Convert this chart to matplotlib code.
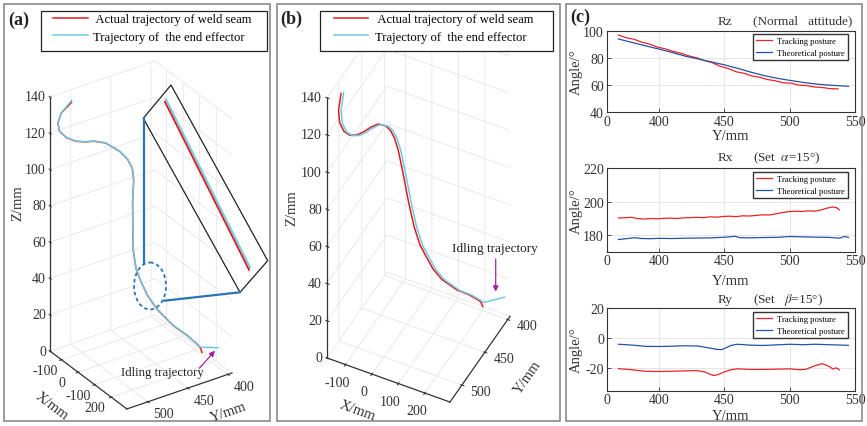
import numpy as np
import matplotlib
matplotlib.use("Agg")
import matplotlib.pyplot as plt
from matplotlib.legend import Legend
from matplotlib.patches import Ellipse, Polygon, Rectangle

plt.rcParams['font.family'] = ['Liberation Serif', 'DejaVu Serif']
plt.rcParams['mathtext.fontset'] = 'stix'
plt.rcParams['axes.unicode_minus'] = False
plt.rcParams['grid.color'] = '#e6e6e6'
plt.rcParams['grid.linewidth'] = 0.6

W, H = 867, 427

# measured weld seam (mm)
seam_x = [-160, -140, -122, -102, -90, -82, -72, -62, -56, -58, -58, -50, -32,
          0, 30, 62, 88, 108, 125, 145, 180, 205, 222, 230, 235]
seam_y = [501, 518, 526, 528, 522, 512, 503, 493, 480, 462, 452, 448, 450,
          458, 464, 470, 472, 470, 465, 457, 445, 432, 424, 421, 420]
seam_z = [134, 132, 129, 126, 122.5, 119.5, 118.5, 118, 115.5, 108, 102, 97, 92,
          84, 73, 63, 55, 49, 41.5, 34, 26, 20, 15.5, 13.5, 11]

# end effector path (mm), last point is the end of the idle move
tool_x = [-145, -125, -107, -87, -75, -67, -57, -47, -41, -43, -43, -35, -17,
          15, 45, 77, 103, 123, 140, 160, 195, 220, 237, 245, 308]
tool_y = [504, 521, 529, 531, 525, 515, 506, 496, 483, 465, 455, 451, 453,
          461, 467, 473, 475, 473, 468, 460, 448, 435, 427, 424, 414.5]
tool_z = [136.5, 133.6, 130.6, 127.6, 124.1, 121.1, 120.1, 119.6, 117.1, 109.6, 103.6, 98.6, 93.6,
          85.6, 74.6, 64.6, 56.6, 50.6, 43.1, 35.6, 27.6, 21.6, 17.1, 15.1, 17.8]

# posture angles along Y (deg)
rz_track_y = [369, 375, 381, 387, 393, 399, 405, 411, 417, 423, 429, 435, 441, 447, 453,
              459, 465, 471, 477, 483, 489, 495, 501, 507, 513, 519, 525, 531, 537]
rz_track = [96.8, 94.8, 93.7, 91.5, 90.1, 87.9, 86.6, 84.7, 83.4, 81.4, 80.1, 77.9, 76.4, 73.8, 72.2,
            69.8, 68.7, 66.7, 65.8, 64.1, 63.2, 61.7, 61.4, 60.0, 59.7, 58.6, 58.2, 57.4, 57.2]
rz_theo_y = [369, 380, 390, 400, 410, 420, 430, 440, 450, 460, 470, 480, 490, 500, 510, 520, 530, 545]
rz_theo = [93.9, 91.2, 88.8, 86.5, 84.0, 81.3, 79.2, 77.1, 74.9, 72.4, 69.6, 67.1, 65.1, 63.5, 62.0,
           60.8, 60.0, 59.1]

rx_track_y = [369, 374, 379, 384, 389, 394, 399, 404, 409, 414, 419, 424, 429, 434, 439, 444, 449, 454,
              459, 464, 469, 474, 479, 484, 489, 494, 499, 504, 509, 514, 519, 524, 529, 533, 536, 538]
rx_track = [190.2, 190.4, 190.6, 189.8, 189.6, 189.9, 189.7, 190.0, 190.1, 189.9, 190.3, 190.4, 190.6,
            190.4, 190.9, 190.7, 191.1, 191.3, 191.0, 191.5, 191.4, 191.7, 192.1, 192.0, 192.6, 193.4,
            194.0, 194.3, 194.1, 194.5, 194.3, 195.0, 196.2, 196.8, 196.4, 195.1]
rx_theo_y = [369, 375, 381, 387, 393, 400, 410, 420, 430, 440, 448, 454, 458, 462, 470, 480, 490, 500,
             510, 520, 530, 538, 542, 545]
rx_theo = [177.3, 177.8, 178.4, 177.9, 177.8, 178.0, 177.9, 178.1, 178.2, 178.3, 178.6, 178.9, 179.3,
           178.4, 178.3, 178.5, 178.6, 179.1, 178.9, 178.7, 178.6, 178.1, 179.1, 178.6]

ry_track_y = [369, 379, 389, 399, 409, 419, 429, 435, 439, 442, 445, 450, 455, 460, 470, 480, 490, 500,
              507, 512, 518, 522, 525, 528, 531, 533, 535, 537, 538]
ry_track = [-20.3, -21.0, -22.0, -22.2, -22.0, -21.8, -21.6, -22.5, -24.0, -24.9, -24.3, -22.5, -21.0,
            -20.4, -20.8, -20.8, -20.6, -20.4, -21.0, -20.8, -18.8, -17.6, -17.0, -18.0, -19.2, -20.6,
            -19.8, -20.2, -21.2]
ry_theo_y = [369, 380, 390, 400, 410, 420, 430, 438, 444, 448, 451, 455, 460, 470, 480, 490, 500, 510,
             520, 530, 545]
ry_theo = [-4.0, -4.6, -5.4, -5.5, -5.3, -5.0, -5.2, -6.4, -7.4, -7.6, -6.5, -4.8, -4.0, -4.6, -4.8,
           -4.4, -4.0, -4.3, -4.0, -4.3, -4.7]

x_ticks = [-100, 0, 100, 200]
y_ticks = [400, 450, 500]
z_ticks = [0, 20, 40, 60, 80, 100, 120, 140]

RED = '#e8171f'
CYAN = '#6ccbdd'
DARK = '#333333'

fig = plt.figure(figsize=(W / 100, H / 100), dpi=100)


def px_rect(left, top, size):
    return [left / W, (H - top - size) / H, size / W, size / H]


def trajectory_axes(rect, elev, azim, aspect, zoom):
    ax = fig.add_axes(rect, projection='3d', computed_zorder=False)
    ax.set_proj_type('ortho')
    ax.view_init(elev=elev, azim=azim)
    ax.set_xlim(-170, 295)
    ax.set_ylim(526, 395)
    ax.set_zlim(0, 140)
    ax.set_box_aspect(aspect, zoom=zoom)
    ax.set_facecolor('none')
    for axis in (ax.xaxis, ax.yaxis, ax.zaxis):
        axis.set_pane_color((1, 1, 1, 0))
        axis.pane.set_edgecolor('#e6e6e6')
        axis.line.set_color(DARK)
        axis.line.set_linewidth(0.9)
    ax.zaxis.set_ticks_position('upper')
    ax.set_xticks(x_ticks)
    ax.set_yticks(y_ticks)
    ax.set_zticks(z_ticks)
    # tick labels are written in the overlay, next to the projected ticks
    ax.set_xticklabels([])
    ax.set_yticklabels([])
    ax.set_zticklabels([])
    ax.tick_params(colors=DARK)
    l1, = ax.plot(seam_x, seam_y, seam_z, color=RED, lw=1.1)
    l2, = ax.plot(tool_x, tool_y, tool_z, color=CYAN, lw=1.1)
    return ax, l1, l2


ax_a, a1, a2 = trajectory_axes(px_rect(-76.7, 29.8, 423.8), 30.5, -34, (137.7, 126.7, 294.8), 0.8)
ax_b, b1, b2 = trajectory_axes(px_rect(157.3, -39.4, 508.6), 45.7, -63.4, (137.6, 134, 372.5), 0.8)

# posture panels
panels = [
    ('Rz', '(Normal   attitude)', rz_track_y, rz_track, rz_theo_y, rz_theo, (40, 100), [40, 60, 80, 100],
     31.7, 113.3, 21.7),
    ('Rx', r'(Set  $\alpha$=15°)', rx_track_y, rx_track, rx_theo_y, rx_theo, (170, 220), [180, 200, 220],
     169.3, 252.7, 158.3),
    ('Ry', r'(Set   $\beta$=15°)', ry_track_y, ry_track, ry_theo_y, ry_theo, (-35, 20), [-20, 0, 20],
     309.3, 391.7, 300.0),
]
xlab_centre = [136.7, 281.7, 416.7]
for (name, note, ty, tv, hy, hv, ylim, yticks, top, bottom, title_y), xl in zip(panels, xlab_centre):
    left, right = 606.7, 855
    ax = fig.add_axes([left / W, (H - bottom) / H, (right - left) / W, (bottom - top) / H])
    ax.plot(ty, tv, color='#ee2228', lw=0.9, label='Tracking posture')
    ax.plot(hy, hv, color='#2454a6', lw=0.9, label='Theoretical posture')
    ax.set_xlim(360, 550)
    ax.set_ylim(*ylim)
    ax.set_xticks([360, 400, 450, 500, 550])
    ax.set_xticklabels(['0', '400', '450', '500', '550'])
    ax.set_yticks(yticks)
    ax.grid(True, color='#e2e2e2', lw=0.6)
    ax.tick_params(direction='in', length=3, width=0.6, labelsize=10, colors=DARK, pad=2)
    for s in ax.spines.values():
        s.set_color(DARK)
        s.set_linewidth(0.8)
    hgt = bottom - top
    ax.set_xlabel('Y/mm', fontsize=10.5, color=DARK)
    ax.xaxis.set_label_coords(0.5, -(xl - 7 - bottom) / hgt)
    ax.set_ylabel('Angle/°', fontsize=10.5, color=DARK)
    ax.yaxis.set_label_coords(-(left - 583) / (right - left), 0.5)
    ty_ax = 1 + (top - title_y) / hgt
    ax.text((718 - left) / (right - left), ty_ax, name, transform=ax.transAxes, fontsize=9.5,
            va='center', ha='left', color=DARK)
    ax.text((753 - left) / (right - left), ty_ax, note, transform=ax.transAxes, fontsize=9.5,
            va='center', ha='left', color=DARK)
    ax.legend(loc='upper right', bbox_to_anchor=((847.7 - left) / (right - left), 1 - 3.3 / hgt),
              fontsize=6.2, frameon=True, fancybox=False, edgecolor=DARK, framealpha=1,
              borderpad=0.38, handlelength=1.9, handletextpad=0.5, labelspacing=0.45, borderaxespad=0)

# overlay in pixel coordinates for frames and annotations
ov = fig.add_axes([0, 0, 1, 1])
ov.set_xlim(0, W)
ov.set_ylim(H, 0)
ov.axis('off')

for x0, x1 in ((4, 270), (277, 560), (566, 862)):
    ov.add_patch(Rectangle((x0, 5), x1 - x0, 417, fill=False, ec='#808080', lw=1.1))
ov.text(8, 20, '(a)', fontsize=13, fontweight='bold', va='center', ha='left', color='#222222')
ov.text(280, 19, '(b)', fontsize=13, fontweight='bold', va='center', ha='left', color='#222222')
ov.text(570, 17, '(c)', fontsize=13, fontweight='bold', va='center', ha='left', color='#222222')

# legends of the 3D views, boxed on a white card
traj_labels = [' Actual trajectory of weld seam', 'Trajectory of  the end effector']
for h1, h2, card, hx, hlen, hpad in ((a1, a2, (40.7, 11.7, 226, 40), 52.7, 2.82, 0.35),
                                     (b1, b2, (320, 11.7, 233.3, 40), 334.3, 2.69, 0.53)):
    ov.add_patch(Rectangle(card[:2], card[2], card[3], fc='white', ec='#222222', lw=0.9, zorder=4))
    leg = Legend(ov, [h1, h2], traj_labels, loc='upper left', bbox_to_anchor=(hx, 14.2),
                 bbox_transform=ov.transData, frameon=False, fontsize=9.1, handlelength=hlen,
                 handletextpad=hpad, labelspacing=0.43, borderpad=0, borderaxespad=0)
    leg.set_zorder(5)
    ov.add_artist(leg)

fig.canvas.draw()


def to_pixels(ax, xs, ys, zs):
    M = ax.get_proj()
    n = len(xs)
    pts = np.vstack([np.broadcast_to(xs, n), np.broadcast_to(ys, n), np.broadcast_to(zs, n), np.ones(n)])
    t = M @ pts
    disp = ax.transData.transform(np.column_stack([t[0] / t[3], t[1] / t[3]]))
    return ov.transData.inverted().transform(disp)


# tick labels and axis titles of the two 3D views
views = [
    (ax_a, ['-100', '0', '-100', '200'], (-16, 10.5), (16, 12), -4,
     [((18, 203), 90), ((52, 406), -37), ((228, 413), 19)]),
    (ax_b, ['-100', '0', '100', '200'], (-8, 17.8), (19, 6), -5,
     [((292, 208), 90), ((357, 411), -20), ((528, 378), 55)]),
]
for ax, xlabels, xoff, yoff, zoff, titles in views:
    x0, x1 = ax.get_xlim()
    y0, y1 = ax.get_ylim()
    n = len(x_ticks)
    pts = to_pixels(ax, np.array(x_ticks, float), np.full(n, y0), np.zeros(n))
    for (px, py), lab in zip(pts, xlabels):
        ov.text(px + xoff[0], py + xoff[1], lab, fontsize=10, ha='center', va='center', color=DARK)
    n = len(y_ticks)
    pts = to_pixels(ax, np.full(n, x1), np.array(y_ticks, float), np.zeros(n))
    for (px, py), v in zip(pts, y_ticks):
        ov.text(px + yoff[0], py + yoff[1], str(v), fontsize=10, ha='center', va='center', color=DARK)
    n = len(z_ticks)
    pts = to_pixels(ax, np.full(n, x0), np.full(n, y0), np.array(z_ticks, float))
    for (px, py), v in zip(pts, z_ticks):
        ov.text(px + zoff, py, str(v), fontsize=10, ha='right', va='center', color=DARK)
    for (pos, rot), lab in zip(titles, ['Z/mm', 'X/mm', 'Y/mm']):
        ov.text(pos[0], pos[1], lab, fontsize=10.5, rotation=rot, rotation_mode='anchor',
                ha='center', va='center', color=DARK)

# zoomed detail of the seam inside the dashed ellipse
ell_c, ell_w, ell_h = (150, 287), 32, 47
seam_px = to_pixels(ax_a, np.array(seam_x, float), np.array(seam_y, float), np.array(seam_z, float))
tool_px = to_pixels(ax_a, np.array(tool_x, float), np.array(tool_y, float), np.array(tool_z, float))
inside = ((seam_px[:, 0] - ell_c[0]) / (ell_w / 2)) ** 2 + ((seam_px[:, 1] - ell_c[1]) / (ell_h / 2)) ** 2 <= 1
idx = np.where(inside)[0]
if len(idx) < 2:
    d = np.hypot(seam_px[:, 0] - ell_c[0], seam_px[:, 1] - ell_c[1])
    idx = np.sort(np.argsort(d)[:3])
i0, i1 = idx.min(), idx.max()
p0 = complex(*seam_px[i0])
p1 = complex(*seam_px[i1])
t0, t1 = complex(165, 102.7), complex(249, 270.7)
k = (t1 - t0) / (p1 - p0)
for pts, col in ((seam_px, RED), (tool_px, CYAN)):
    seg = pts[i0:i1 + 1, 0] + 1j * pts[i0:i1 + 1, 1]
    z = k * (seg - p0) + t0
    ov.plot(z.real, z.imag, color=col, lw=1.4)

ov.add_patch(Polygon([(171, 86), (267.7, 261.7), (240, 293.3), (143.3, 119.3)], closed=True,
                     fill=False, ec='#222222', lw=0.9))
ov.add_patch(Ellipse(ell_c, ell_w, ell_h, fill=False, ec='#2a74b8', lw=1.3, ls=(0, (2, 1.6))))
ov.plot([144, 144], [119.3, 264], color='#2a74b8', lw=1.6)
ov.plot([164.3, 240], [301.7, 293.3], color='#2a74b8', lw=1.6)

arrow = dict(arrowstyle='-|>', color='#a0269f', lw=0.9, mutation_scale=8, shrinkA=0, shrinkB=0)
ov.text(162, 373.3, 'Idling trajectory', fontsize=9.3, ha='center', va='center', color='#222222')
ov.annotate('', xy=(215, 351.7), xytext=(199.3, 369.3), arrowprops=arrow)
ov.text(494.5, 249.3, 'Idling trajectory', fontsize=9.5, ha='center', va='center', color='#222222')
ov.annotate('', xy=(495.7, 292.7), xytext=(495.7, 260), arrowprops=arrow)

fig.savefig('out.png', dpi=100)
